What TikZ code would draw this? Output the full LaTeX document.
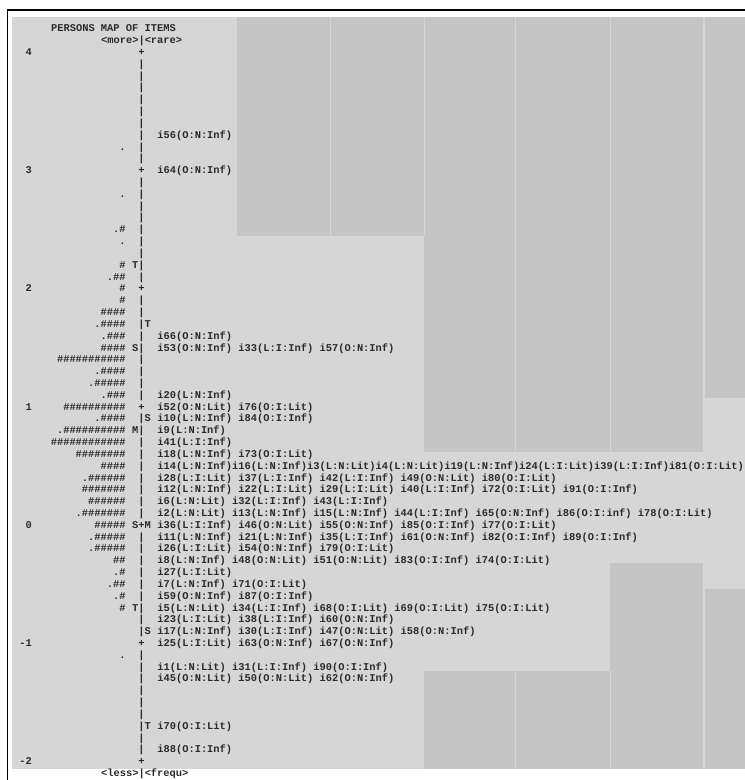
\documentclass[tikz,border=0pt]{standalone}
\usepackage{fontspec}
\newfontfamily\mapfont{Liberation Mono}
\definecolor{mapbg}{HTML}{D6D6D6}
\definecolor{mapcol}{HTML}{C5C5C5}
\definecolor{mapseam}{HTML}{D2D7D7}
\definecolor{maptext}{HTML}{2A2A2A}
\tikzset{
  mono/.style={font=\mapfont\bfseries\fontsize{10.4}{12}\selectfont, text=maptext,
               inner sep=0pt, text height=7pt, text depth=2pt},
  persons/.style={mono, anchor=east},
  items/.style={mono, anchor=west},
  column/.style={fill=mapcol, draw=none},
  seam/.style={draw=mapseam, line width=1pt}
}
\newcommand{\hh}[1]{\foreach \k in {1,...,#1}{\#}}
\def\barx{141.5}
\def\cw{6.25}

\begin{document}
\begin{tikzpicture}[x=1pt, y=-1pt]
\useasboundingbox (0,0) rectangle (745,780);
\fill[white] (0,0) rectangle (745,780);
\fill[mapbg] (12,17) rectangle (745,769);
\draw[black, line width=1.1pt] (7.5,780) -- (7.5,10) -- (745,10);
% darker columns
\fill[column] (237,17) rectangle (424,236);
\fill[column] (424,17) rectangle (703,452);
\fill[column] (705,17) rectangle (745,398);
\fill[column] (610,563) rectangle (703,769);
\fill[column] (705,589) rectangle (745,769);
\fill[column] (424,671) rectangle (610,769);
\foreach \sx/\sa/\sb in {330/17/236, 424/17/236, 515/17/452, 610/17/452, 704/17/398,
                         515/671/769, 610/671/769, 704/589/769}
  \draw[seam] (\sx,\sa) -- (\sx,\sb);

\begin{scope}[yshift=-53pt, y=-11.82pt]
% header and footer
\node[mono, anchor=west] (title) at (\barx-14.5*\cw,-2) {PERSONS MAP OF ITEMS};
\node[mono, anchor=west] (more)  at (\barx-6.5*\cw,-1)  {<more>|<rare>};
\node[mono, anchor=west] (less)  at (\barx-6.5*\cw,61)  {<less>|<frequ>};
% logit scale
\foreach \r/\v in {0/4,10/3,20/2,30/1,40/0,50/-1,60/-2}
  \node[mono, anchor=east] (n\r) at (\barx-17.5*\cw,\r) {\v};
% the dividing line
\foreach \u in {0,10,...,50}
  \foreach \v in {1,...,9}
    \node[mono] (b\u-\v) at (\barx,\u+\v) {|};
\foreach \r in {0,10,...,60}
  \node[mono] (c\r) at (\barx,\r) {+};
\foreach \r/\st/\dx in {18/T/-1,23/T/1,25/S/-1,31/S/1,32/M/-1,40/S/-1,40/M/1,47/T/-1,49/S/1,57/T/1}
  \node[mono] (s\r\st) at (\barx+\dx*\cw,\r) {\st};
% persons
\foreach \r/\p in {8/., 12/., 15/.\hh{1}, 16/., 18/\hh{1}, 19/.\hh{2}, 20/\hh{1}, 21/\hh{1},
                   22/\hh{4}, 23/.\hh{4}, 24/.\hh{3}, 25/\hh{4}, 26/\hh{11}, 27/.\hh{4},
                   28/.\hh{5}, 29/.\hh{3}, 30/\hh{10}, 31/.\hh{4}, 32/.\hh{10}, 33/\hh{12},
                   34/\hh{8}, 35/\hh{4}, 36/.\hh{6}, 37/\hh{7}, 38/\hh{6}, 39/.\hh{7},
                   40/\hh{5}, 41/.\hh{5}, 42/.\hh{5}, 43/\hh{2}, 44/.\hh{1}, 45/.\hh{2},
                   46/.\hh{1}, 47/\hh{1}, 51/.}
  \node[persons] (p\r) at (\barx-2.5*\cw,\r) {\p};
% items
\foreach \r/\t in {
    7/i56(O:N:Inf),
    10/i64(O:N:Inf),
    24/i66(O:N:Inf),
    25/i53(O:N:Inf) i33(L:I:Inf) i57(O:N:Inf),
    29/i20(L:N:Inf),
    30/i52(O:N:Lit) i76(O:I:Lit),
    31/i10(L:N:Inf) i84(O:I:Inf),
    32/i9(L:N:Inf),
    33/i41(L:I:Inf),
    34/i18(L:N:Inf) i73(O:I:Lit),
    35/i14(L:N:Inf)i16(L:N:Inf)i3(L:N:Lit)i4(L:N:Lit)i19(L:N:Inf)i24(L:I:Lit)i39(L:I:Inf)i81(O:I:Lit),
    36/i28(L:I:Lit) i37(L:I:Inf) i42(L:I:Inf) i49(O:N:Lit) i80(O:I:Lit),
    37/i12(L:N:Inf) i22(L:I:Lit) i29(L:I:Lit) i40(L:I:Inf) i72(O:I:Lit) i91(O:I:Inf),
    38/i6(L:N:Lit) i32(L:I:Inf) i43(L:I:Inf),
    39/i2(L:N:Lit) i13(L:N:Inf) i15(L:N:Inf) i44(L:I:Inf) i65(O:N:Inf) i86(O:I:inf) i78(O:I:Lit),
    40/i36(L:I:Inf) i46(O:N:Lit) i55(O:N:Inf) i85(O:I:Inf) i77(O:I:Lit),
    41/i11(L:N:Inf) i21(L:N:Inf) i35(L:I:Inf) i61(O:N:Inf) i82(O:I:Inf) i89(O:I:Inf),
    42/i26(L:I:Lit) i54(O:N:Inf) i79(O:I:Lit),
    43/i8(L:N:Inf) i48(O:N:Lit) i51(O:N:Lit) i83(O:I:Inf) i74(O:I:Lit),
    44/i27(L:I:Lit),
    45/i7(L:N:Inf) i71(O:I:Lit),
    46/i59(O:N:Inf) i87(O:I:Inf),
    47/i5(L:N:Lit) i34(L:I:Inf) i68(O:I:Lit) i69(O:I:Lit) i75(O:I:Lit),
    48/i23(L:I:Lit) i38(L:I:Inf) i60(O:N:Inf),
    49/i17(L:N:Inf) i30(L:I:Inf) i47(O:N:Lit) i58(O:N:Inf),
    50/i25(L:I:Lit) i63(O:N:Inf) i67(O:N:Inf),
    52/i1(L:N:Lit) i31(L:I:Inf) i90(O:I:Inf),
    53/i45(O:N:Lit) i50(O:N:Lit) i62(O:N:Inf),
    57/i70(O:I:Lit),
    59/i88(O:I:Inf)}
  \node[items] (i\r) at (\barx+2.5*\cw,\r) {\t};
\end{scope}
\end{tikzpicture}
\end{document}
